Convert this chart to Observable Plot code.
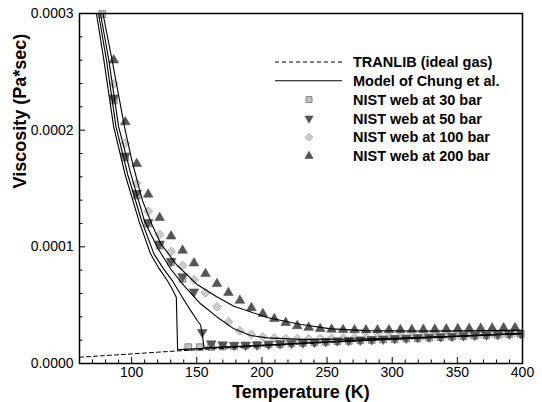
<!DOCTYPE html>
<html><head><meta charset="utf-8">
<script src="https://cdn.jsdelivr.net/npm/d3@7"></script>
<script src="https://cdn.jsdelivr.net/npm/@observablehq/plot@0.6"></script>
<style>
body{margin:0;background:#fff;}
#wrap{position:relative;width:542px;height:402px;font-family:Arial,"Liberation Sans",sans-serif;}
#legend{position:absolute;left:0;top:0;pointer-events:none;}
</style></head><body>
<div id="wrap"><div id="chart"></div><svg id="legend" width="542" height="402"></svg></div>
<script>
// ---- data (viscosity in units of 1e-4 Pa*s) ----
const tranT = [60, 80, 100, 120, 140, 160, 180, 200, 250, 300, 350, 400];
const tranV = [0.054, 0.068, 0.082, 0.097, 0.111, 0.124, 0.137, 0.150, 0.180, 0.208, 0.233, 0.257];

const chung30T = [71, 73, 78.7, 86.2, 95, 105.5, 114.5, 121, 127.4, 131, 134.3, 135.3, 140, 160, 200, 250, 300, 350, 400];
const chung30V = [3.12, 3.0, 2.6, 2.03, 1.62, 1.226, 0.94, 0.815, 0.711, 0.64, 0.568, 0.118, 0.121, 0.133, 0.155, 0.184, 0.209, 0.232, 0.255];
const chung50T = [73, 74.6, 80.7, 88, 97, 107.6, 117.1, 124, 131.2, 138.9, 145, 150.4, 152.9, 154.2, 155.5, 160, 200, 250, 300, 350, 400];
const chung50V = [3.12, 3.0, 2.6, 2.03, 1.62, 1.226, 0.94, 0.82, 0.711, 0.568, 0.46, 0.369, 0.33, 0.254, 0.14, 0.137, 0.157, 0.186, 0.211, 0.234, 0.257];
const chung100T = [74.5, 76.1, 82.5, 90, 100, 110.2, 120, 130, 140, 152.9, 165.8, 178.5, 191.3, 204.2, 230, 260, 300, 350, 400];
const chung100V = [3.12, 3.0, 2.6, 2.03, 1.6, 1.21, 0.99, 0.81, 0.67, 0.512, 0.397, 0.297, 0.24, 0.22, 0.207, 0.208, 0.217, 0.236, 0.258];
const chung200T = [76.5, 78, 85, 94.5, 100, 108.2, 116, 122.2, 135, 150, 165, 178.5, 204, 230, 253, 280, 320, 360, 400];
const chung200V = [3.12, 3.0, 2.6, 2.03, 1.75, 1.40, 1.18, 1.03, 0.84, 0.68, 0.575, 0.49, 0.395, 0.334, 0.297, 0.282, 0.278, 0.28, 0.285];

const nist30T = [77.5, 86.3, 95.1, 103.9, 112.7, 121.5, 130.3, 139.1, 143.5, 152.3, 161.1, 169.9, 178.7, 187.5, 196.3, 205.1, 213.9, 222.7, 231.5, 240.3, 249.1, 257.9, 266.7, 275.5, 284.3, 293.1, 301.9, 310.7, 319.5, 328.3, 337.1, 345.9, 354.7, 363.5, 372.3, 381.1, 389.9, 398.7];
const nist30V = [2.995, 2.254, 1.768, 1.44, 1.20, 1.011, 0.868, 0.726, 0.14, 0.14, 0.142, 0.146, 0.150, 0.155, 0.160, 0.164, 0.168, 0.173, 0.177, 0.181, 0.186, 0.190, 0.194, 0.198, 0.202, 0.206, 0.210, 0.214, 0.218, 0.222, 0.226, 0.230, 0.234, 0.238, 0.242, 0.246, 0.250, 0.254];

const nist50T = [86.3, 95.1, 103.9, 112.7, 121.5, 130.3, 139.1, 147.9, 154.2, 161.1, 169.9, 178.7, 187.5, 196.3, 205.1, 213.9, 222.7, 231.5, 240.3, 249.1, 257.9, 266.7, 275.5, 284.3, 293.1, 301.9, 310.7, 319.5, 328.3, 337.1, 345.9, 354.7, 363.5, 372.3, 381.1, 389.9, 398.7];
const nist50V = [2.277, 1.78, 1.46, 1.21, 1.026, 0.877, 0.746, 0.615, 0.268, 0.170, 0.162, 0.158, 0.158, 0.160, 0.165, 0.170, 0.174, 0.178, 0.183, 0.190, 0.195, 0.199, 0.203, 0.207, 0.211, 0.215, 0.219, 0.223, 0.227, 0.231, 0.235, 0.239, 0.243, 0.246, 0.250, 0.254, 0.258];

const nistHiT = [86.3, 95.1, 103.9, 112.7, 121.5, 130.3, 139.1, 147.9, 156.7, 165.5, 174.3, 183.1, 191.9, 200.7, 209.5, 218.3, 227.1, 235.9, 244.7, 253.5, 262.3, 271.1, 279.9, 288.7, 297.5, 306.3, 315.1, 323.9, 332.7, 341.5, 350.3, 359.1, 367.9, 376.7, 385.5, 394.3];
const nist100V = [2.397, 1.888, 1.545, 1.305, 1.106, 0.96, 0.84, 0.717, 0.605, 0.486, 0.358, 0.28, 0.249, 0.228, 0.218, 0.214, 0.212, 0.212, 0.214, 0.216, 0.219, 0.222, 0.225, 0.228, 0.231, 0.234, 0.237, 0.240, 0.243, 0.246, 0.249, 0.252, 0.255, 0.258, 0.261, 0.264];
const nist200V = [2.60, 2.07, 1.712, 1.449, 1.249, 1.091, 0.969, 0.860, 0.769, 0.683, 0.606, 0.54, 0.477, 0.426, 0.383, 0.350, 0.322, 0.308, 0.298, 0.292, 0.289, 0.287, 0.286, 0.286, 0.287, 0.288, 0.289, 0.290, 0.292, 0.294, 0.296, 0.298, 0.300, 0.302, 0.304, 0.306];

const xMajor = [100, 150, 200, 250, 300, 350, 400];
const xMinor = [70, 80, 90, 110, 120, 130, 140, 160, 170, 180, 190, 210, 220, 230, 240, 260, 270, 280, 290, 310, 320, 330, 340, 360, 370, 380, 390];
const yMajor = [0, 0.0001, 0.0002, 0.0003];
const yMinor = [0.00002, 0.00004, 0.00006, 0.00008, 0.00012, 0.00014, 0.00016, 0.00018, 0.00022, 0.00024, 0.00026, 0.00028];

const legendLabels = ["TRANLIB (ideal gas)", "Model of Chung et al.", "NIST web at 30 bar", "NIST web at 50 bar", "NIST web at 100 bar", "NIST web at 200 bar"];

const pts = (T, V) => T.map((t, i) => ({T: t, v: V[i] * 1e-4}));

const sq = {fill: "#c4c4c4", stroke: "#6e6e6e", strokeWidth: 0.8};
const dn = {fill: "#575757", stroke: "#444", strokeWidth: 0.5};
const dm = {fill: "#cdcdcd", stroke: "#a8a8a8", strokeWidth: 0.8};
const up = {fill: "#555555", stroke: "#444", strokeWidth: 0.5};

const lineOpts = {x: "T", y: "v", stroke: "#000", strokeWidth: 1.1, clip: true};

const chart = Plot.plot({
  width: 542, height: 402,
  marginLeft: 79, marginRight: 20, marginTop: 13, marginBottom: 39,
  x: {domain: [60, 400]},
  y: {domain: [0, 0.0003]},
  style: {fontFamily: "Arial, 'Liberation Sans', sans-serif", fontSize: "14px", color: "#000", background: "#fff"},
  marks: [
    Plot.axisX({ticks: xMajor, tickSize: 0, tickPadding: 4, tickFormat: d => String(d), fontSize: 14, label: null}),
    Plot.axisY({ticks: yMajor, tickSize: 0, tickPadding: 6, tickFormat: d3.format(".4f"), fontSize: 14, label: null}),
    Plot.ruleX(xMajor, {x: d => d, y1: 0, y2: 0, insetBottom: 6, stroke: "#000", strokeWidth: 1}),
    Plot.ruleX(xMinor, {x: d => d, y1: 0, y2: 0, insetBottom: 3.5, stroke: "#000", strokeWidth: 1}),
    Plot.ruleY(yMajor, {y: d => d, x1: 60, x2: 60, insetRight: -6, stroke: "#000", strokeWidth: 1}),
    Plot.ruleY(yMinor, {y: d => d, x1: 60, x2: 60, insetRight: -3.5, stroke: "#000", strokeWidth: 1}),
    Plot.dot(pts(nist30T, nist30V), {x: "T", y: "v", symbol: "square", r: 3.8, ...sq}),
    Plot.dot(pts(nistHiT, nist100V), {x: "T", y: "v", symbol: "square", rotate: 45, r: 3.5, ...dm, clip: true}),
    Plot.dot(pts(nist50T, nist50V), {x: "T", y: "v", symbol: "triangle", rotate: 180, r: 3.6, ...dn, clip: true}),
    Plot.dot(pts(nistHiT, nist200V), {x: "T", y: "v", symbol: "triangle", r: 3.6, ...up, clip: true}),
    Plot.line(pts(tranT, tranV), {...lineOpts, strokeDasharray: "4,3", strokeWidth: 1}),
    Plot.line(pts(chung30T, chung30V), lineOpts),
    Plot.line(pts(chung50T, chung50V), lineOpts),
    Plot.line(pts(chung100T, chung100V), lineOpts),
    Plot.line(pts(chung200T, chung200V), lineOpts),
    Plot.frame({stroke: "#000", strokeWidth: 1.5}),
    Plot.text(["Temperature (K)"], {frameAnchor: "bottom", dy: 34, fontSize: 18, fontWeight: "bold", lineAnchor: "bottom"}),
    Plot.text(["Viscosity (Pa*sec)"], {frameAnchor: "left", dx: -59, rotate: -90, fontSize: 18, fontWeight: "bold"})
  ]
});
document.getElementById("chart").appendChild(chart);

// ---- legend ----
const lg = d3.select("#legend");
const rowY = i => 62 + i * 18.8;
const textX = 353, symX = 309;
lg.append("line").attr("x1", 275).attr("x2", 342).attr("y1", rowY(0)).attr("y2", rowY(0)).attr("stroke", "#000").attr("stroke-width", 1).attr("stroke-dasharray", "4,3");
lg.append("line").attr("x1", 275).attr("x2", 342).attr("y1", rowY(1)).attr("y2", rowY(1)).attr("stroke", "#000").attr("stroke-width", 1.1);
const legSyms = [
  {sym: d3.symbolSquare, size: 36, rot: 0, st: sq},
  {sym: d3.symbolTriangle, size: 30, rot: 180, st: dn},
  {sym: d3.symbolSquare, size: 30, rot: 45, st: dm},
  {sym: d3.symbolTriangle, size: 30, rot: 0, st: up}
];
legSyms.forEach((s, k) => {
  lg.append("path").attr("d", d3.symbol(s.sym, s.size)())
    .attr("transform", `translate(${symX},${rowY(k + 2)}) rotate(${s.rot})`)
    .attr("fill", s.st.fill).attr("stroke", s.st.stroke).attr("stroke-width", s.st.strokeWidth);
});
legendLabels.forEach((t, i) => {
  lg.append("text").attr("x", textX).attr("y", rowY(i)).attr("dy", "0.36em")
    .attr("font-family", "Arial, 'Liberation Sans', sans-serif").attr("font-size", 14.5).attr("font-weight", "bold")
    .attr("fill", "#000").text(t);
});
</script>
</body></html>
